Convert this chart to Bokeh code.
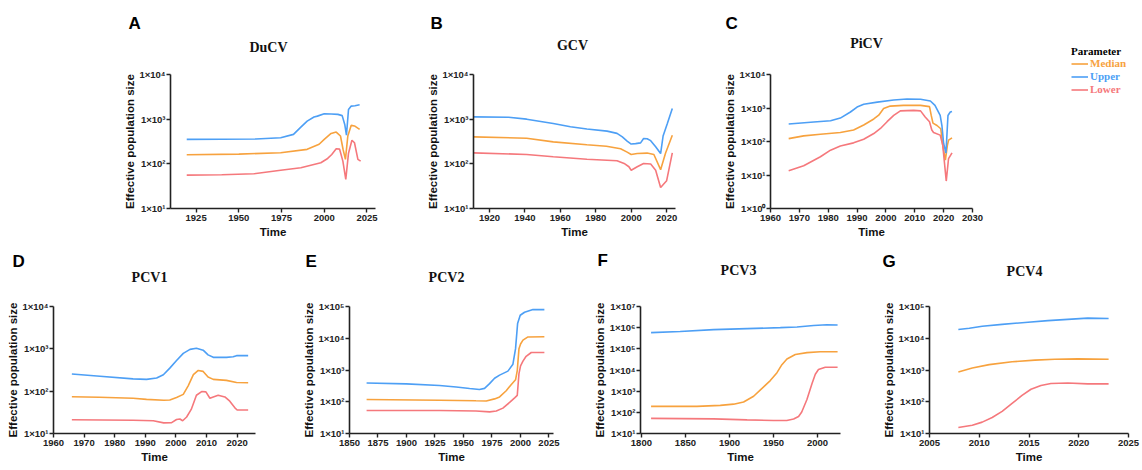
from bokeh.plotting import figure
from bokeh.models import Range1d, FixedTicker, Label, Legend, LegendItem
from bokeh.layouts import row, column
from bokeh.embed import file_html
from bokeh.resources import INLINE

# ---------------- data ----------------
# Panel A: DuCV
A_med_x = [1919.5, 1950, 1974.5, 1990, 1997, 2000, 2004, 2007, 2009.5, 2011, 2012.4, 2013.8, 2015.8, 2017.7, 2020.7]
A_med_y = [160, 165, 177, 211, 275, 353, 479, 515, 420, 212, 126, 420, 727, 705, 590]
A_up_x = [1919.5, 1940, 1960, 1974.5, 1982, 1986, 1990, 1994, 1996, 2000, 2004, 2008, 2010.5, 2012, 2013, 2014.2, 2015.8, 2018, 2020.7]
A_up_y = [353, 355, 360, 385, 457, 645, 906, 1120, 1170, 1320, 1310, 1280, 1200, 760, 440, 1650, 1960, 2000, 2100]
A_low_x = [1919.5, 1940, 1958.8, 1974.5, 1986.3, 1998, 2002, 2004.4, 2007, 2009, 2010.9, 2012.6, 2014.2, 2016.2, 2017.7, 2019.7, 2021.3]
A_low_y = [56, 57, 60, 72, 82, 106, 132, 162, 217, 213, 115, 45, 173, 337, 296, 126, 115]

# Panel B: GCV
B_med_x = [1911, 1941, 1956, 1975, 1986, 1994, 1997.7, 2000, 2003.4, 2009, 2012.8, 2016.6, 2019.4, 2023.2]
B_med_y = [402, 375, 310, 267, 248, 217, 183, 162, 170, 174, 162, 74, 174, 438]
B_up_x = [1911, 1930.8, 1941, 1956, 1965.7, 1975, 1986.4, 1992, 1995, 1997.7, 2000, 2002.5, 2005.3, 2007, 2009, 2011, 2013.8, 2016.6, 2018, 2020.4, 2023.2]
B_up_y = [1128, 1100, 1000, 800, 675, 600, 540, 480, 400, 323, 277, 283, 295, 370, 365, 330, 240, 170, 420, 800, 1740]
B_low_x = [1911, 1941, 1956, 1975, 1992, 1996, 1998.7, 2000, 2003.4, 2007, 2011, 2013.8, 2016.6, 2020, 2023.2]
B_low_y = [176, 162, 144, 127, 117, 102, 86, 72, 86, 102, 99, 72, 29.5, 42, 176]

# Panel C: PiCV
C_med_x = [1966.3, 1971.5, 1977.3, 1984.2, 1988.8, 1992.3, 1995.8, 1997.5, 1999.2, 2001.5, 2006.1, 2012, 2015.1, 2015.7, 2016.3, 2017.7, 2019, 2019.7, 2020.6, 2021.3, 2021.7, 2022.9]
C_med_y = [122, 147, 165, 185, 220, 310, 470, 610, 960, 1140, 1200, 1200, 1100, 600, 355, 300, 240, 77, 28, 77, 110, 129]
C_up_x = [1966.3, 1975, 1980.8, 1984.2, 1987.7, 1990, 1992.3, 1997, 2002.7, 2007.3, 2012, 2015.4, 2017, 2018.8, 2019.4, 2020, 2020.8, 2021.5, 2022.3, 2022.9]
C_up_y = [332, 380, 415, 500, 760, 1070, 1290, 1500, 1730, 1860, 1830, 1620, 1200, 600, 300, 87, 45, 600, 760, 790]
C_low_x = [1966.3, 1971.5, 1977.3, 1980.8, 1984.2, 1988.8, 1992.3, 1995.8, 1998.1, 2000.4, 2002.7, 2005, 2009.6, 2012, 2013.6, 2015.1, 2015.9, 2016.5, 2018.8, 2019.7, 2020.9, 2021.7, 2022.9]
C_low_y = [13.3, 18.8, 35, 55, 73, 91, 117, 173, 245, 390, 600, 820, 850, 820, 540, 390, 220, 185, 155, 77, 6.6, 31, 46]

# Panel D: PCV1
D_med_x = [1966, 1975, 1986, 1990.4, 1996, 1998, 2000.2, 2002.4, 2004, 2005.7, 2007.3, 2008.9, 2010.5, 2012.2, 2016.5, 2019.8, 2023.6]
D_med_y = [74, 72, 68, 64, 61, 62, 71, 84, 134, 245, 309, 293, 215, 190, 180, 160, 158]
D_up_x = [1966, 1975.2, 1986, 1990.4, 1993.7, 1995.9, 1998, 2000.2, 2002.4, 2004.6, 2006.7, 2008.9, 2010.5, 2012.2, 2016.5, 2018.7, 2019.8, 2023.6]
D_up_y = [254, 225, 195, 190, 205, 245, 350, 530, 780, 970, 1030, 930, 720, 630, 630, 650, 690, 690]
D_low_x = [1966, 1986, 1992.6, 1996, 1998.6, 2000.2, 2001.3, 2002.2, 2003.5, 2005, 2006.7, 2008.4, 2009.8, 2011.1, 2012.2, 2013.8, 2016, 2017.6, 2019.2, 2020, 2023.6]
D_low_y = [21.2, 20.6, 20, 17.8, 18, 21.4, 22, 20, 24.5, 37, 80, 98, 96, 68, 73, 80, 73, 58, 41, 36, 36]

# Panel E: PCV2
E_med_x = [1865, 1929, 1961, 1970, 1977.3, 1981.7, 1987.5, 1992, 1995.7, 1997.2, 1998.7, 2000.1, 2002.2, 2006.6, 2021]
E_med_y = [118, 112, 107, 106, 123, 142, 222, 350, 490, 950, 4700, 6600, 8700, 11000, 11200]
E_up_x = [1865, 1899.8, 1929, 1943.6, 1955.4, 1964, 1968.5, 1972.9, 1977.3, 1981.7, 1989, 1993.4, 1995.7, 1997.5, 1999.8, 2003.6, 2011, 2021]
E_up_y = [391, 365, 325, 290, 260, 243, 264, 372, 550, 690, 920, 1520, 4700, 29000, 53000, 66000, 80000, 80000]
E_low_x = [1865, 1929, 1961, 1973, 1978.8, 1984.6, 1990.5, 1994.9, 1997.2, 1998.7, 2000.1, 2002.2, 2005, 2009.5, 2021]
E_low_y = [53, 53, 51, 48, 51, 63, 95, 132, 158, 770, 1350, 1900, 2700, 3560, 3560]

# Panel F: PCV3
F_med_x = [1811, 1863, 1889.6, 1904.7, 1916, 1927.4, 1936.9, 1946.3, 1953.9, 1959.5, 1965.2, 1974.7, 1987.9, 2003, 2022.7]
F_med_y = [192, 192, 213, 243, 310, 575, 1350, 3160, 7500, 17800, 33000, 54000, 66000, 73000, 73000]
F_up_x = [1811, 1844, 1882, 1920, 1957.7, 1976.6, 1995.5, 2010.6, 2022.7]
F_up_y = [582000, 660000, 810000, 900000, 1000000, 1070000, 1270000, 1370000, 1330000]
F_low_x = [1811, 1882, 1920, 1950, 1965, 1972.8, 1978.4, 1982, 1987.9, 1993.6, 1997.4, 2001, 2008.7, 2022.7]
F_low_y = [52, 49, 44, 41, 41, 48, 63, 103, 405, 2250, 6300, 10500, 13400, 13400]

# Panel G: PCV4
G_med_x = [2007.9, 2009.3, 2011, 2013.3, 2015.6, 2017.6, 2019.9, 2023]
G_med_y = [870, 1150, 1480, 1820, 2040, 2190, 2240, 2190]
G_up_x = [2007.9, 2009, 2010.3, 2012.3, 2014.9, 2016.9, 2018.9, 2020.9, 2023]
G_up_y = [18900, 20700, 23800, 27300, 32000, 35800, 39300, 43000, 42000]
G_low_x = [2007.9, 2009.3, 2010.3, 2011.3, 2012.3, 2013.3, 2014.3, 2015.2, 2016.2, 2017.2, 2018.9, 2020.9, 2023]
G_low_y = [15.4, 18.3, 22.8, 32, 50, 89, 158, 247, 327, 375, 390, 365, 365]

# tick values
A_xticks = [1925, 1950, 1975, 2000, 2025]
B_xticks = [1920, 1940, 1960, 1980, 2000, 2020]
C_xticks = [1960, 1970, 1980, 1990, 2000, 2010, 2020, 2030]
D_xticks = [1960, 1970, 1980, 1990, 2000, 2010, 2020]
E_xticks = [1850, 1875, 1900, 1925, 1950, 1975, 2000, 2025]
F_xticks = [1800, 1850, 1900, 1950, 2000]
G_xticks = [2005, 2010, 2015, 2020, 2025]
A_ydec = [1, 2, 3, 4]
B_ydec = [1, 2, 3, 4]
C_ydec = [0, 1, 2, 3, 4]
D_ydec = [1, 2, 3, 4]
E_ydec = [1, 2, 3, 4, 5]
F_ydec = [1, 2, 3, 4, 5, 6, 7]
G_ydec = [1, 2, 3, 4, 5]

panel_letters = ["A", "B", "C", "D", "E", "F", "G"]
panel_names = ["DuCV", "GCV", "PiCV", "PCV1", "PCV2", "PCV3", "PCV4"]
params = ["Median", "Upper", "Lower"]
legend_title = "Parameter"
colors = {"Median": "#F7A23E", "Upper": "#4D9FF5", "Lower": "#F5787C"}

SANS = "Liberation Sans"
SERIF = "Liberation Serif"
AX = "#222222"
SUP = str.maketrans("0123456789", "⁰¹²³⁴⁵⁶⁷⁸⁹")


def dec_label(e):
    return "1×10" + str(e).translate(SUP)


def blank_fig(w, h):
    f = figure(width=w, height=h, x_range=Range1d(0, 1), y_range=Range1d(0, 1),
               x_axis_location=None, y_axis_location=None,
               output_backend="svg", toolbar_location=None)
    f.min_border = 0
    f.outline_line_color = None
    f.xgrid.visible = False
    f.ygrid.visible = False
    return f


def make_panel(w, h, mbl, mbr, mbt, mbb, xr, xticks, ydec, series):
    p = figure(width=w, height=h, x_range=Range1d(*xr),
               y_range=Range1d(10 ** ydec[0], 10 ** ydec[-1]), y_axis_type="log",
               output_backend="svg", toolbar_location=None)
    p.min_border_left = mbl
    p.min_border_right = mbr
    p.min_border_top = mbt
    p.min_border_bottom = mbb
    p.outline_line_color = None
    p.xgrid.visible = False
    p.ygrid.visible = False

    p.xaxis.ticker = FixedTicker(ticks=xticks)
    p.yaxis.ticker = FixedTicker(ticks=[10 ** e for e in ydec])
    p.yaxis.major_label_overrides = {10 ** e: dec_label(e) for e in ydec}
    for ax in (p.xaxis, p.yaxis):
        ax.axis_line_color = AX
        ax.axis_line_width = 1.6
        ax.major_tick_line_color = AX
        ax.major_tick_line_width = 1.4
        ax.major_tick_in = 0
        ax.major_tick_out = 4
        ax.minor_tick_line_color = None
        ax.major_label_text_font = SANS
        ax.major_label_text_font_style = "bold"
        ax.major_label_text_color = "#222222"
        ax.major_label_standoff = 2
        ax.axis_label_text_font = SANS
        ax.axis_label_text_font_style = "bold"
        ax.axis_label_text_font_size = "11.5px"
        ax.axis_label_text_color = "#111111"
        ax.axis_label_standoff = 2
    p.yaxis.major_label_standoff = 1
    p.yaxis.axis_label_standoff = 0
    p.xaxis.major_label_text_font_size = "9.5px"
    p.yaxis.major_label_text_font_size = "9.5px"
    p.xaxis.axis_label = "Time"
    p.yaxis.axis_label = "Effective population size"

    for key, (xs, ys) in series.items():
        p.line(xs, ys, line_color=colors[key], line_width=1.6)
    return p


def add_heading(f, letter, name, letter_xy, name_xy):
    f.add_layout(Label(x=letter_xy[0], y=letter_xy[1], x_units="screen", y_units="screen",
                       text=letter, text_font=SANS, text_font_style="bold",
                       text_font_size="17px", text_color="#000000",
                       text_align="left", text_baseline="middle"))
    f.add_layout(Label(x=name_xy[0], y=name_xy[1], x_units="screen", y_units="screen",
                       text=name, text_font=SERIF, text_font_style="bold",
                       text_font_size="14px", text_color="#111111",
                       text_align="center", text_baseline="middle"))


# ---------- top row ----------
pA = make_panel(415, 186, 170, 40, 14, 38, (1910, 2030), A_xticks, A_ydec,
                {"Median": (A_med_x, A_med_y), "Upper": (A_up_x, A_up_y), "Lower": (A_low_x, A_low_y)})
pB = make_panel(297, 186, 58, 37, 14, 38, (1911, 2025), B_xticks, B_ydec,
                {"Median": (B_med_x, B_med_y), "Upper": (B_up_x, B_up_y), "Lower": (B_low_x, B_low_y)})
pC = make_panel(350, 186, 58, 90, 14, 38, (1960, 2030), C_xticks, C_ydec,
                {"Median": (C_med_x, C_med_y), "Upper": (C_up_x, C_up_y), "Lower": (C_low_x, C_low_y)})

hdr1 = blank_fig(1062, 60)
add_heading(hdr1, panel_letters[0], panel_names[0], (128, 37), (268, 13))
add_heading(hdr1, panel_letters[1], panel_names[1], (430, 37), (572, 15))
add_heading(hdr1, panel_letters[2], panel_names[2], (725, 37), (866, 17))

# legend panel (its own small canvas, legend keys drawn by Bokeh's Legend)
legf = blank_fig(80, 246)
leg_y = [176.5, 163.5, 150.5]
for i, key in enumerate(params):
    r = legf.line(x=[float("nan")], y=[float("nan")], line_color=colors[key], line_width=1.6)
    leg = Legend(items=[LegendItem(label=key, renderers=[r])],
                 location=(9, leg_y[i]), orientation="vertical",
                 padding=0, margin=0, spacing=0,
                 glyph_width=17, glyph_height=13, label_height=13, label_standoff=2,
                 label_text_font=SERIF, label_text_font_style="bold",
                 label_text_font_size="11px", label_text_color=colors[key],
                 border_line_color=None, background_fill_alpha=0)
    if i == 0:
        leg.title = legend_title
        leg.title_text_font = SERIF
        leg.title_text_font_style = "bold"
        leg.title_text_font_size = "11px"
        leg.title_text_color = "#000000"
        leg.title_standoff = 0
    legf.add_layout(leg)

top = row(column(hdr1, row(pA, pB, pC)), legf)

# ---------- bottom row ----------
pD = make_panel(300, 180, 53, 45, 16, 33, (1960, 2026), D_xticks, D_ydec,
                {"Median": (D_med_x, D_med_y), "Upper": (D_up_x, D_up_y), "Lower": (D_low_x, D_low_y)})
pE = make_panel(290, 180, 49, 37, 15, 33, (1850, 2029), E_xticks, E_ydec,
                {"Median": (E_med_x, E_med_y), "Upper": (E_up_x, E_up_y), "Lower": (E_low_x, E_low_y)})
pF = make_panel(290, 180, 50, 40, 8, 37, (1799, 2026), F_xticks, F_ydec,
                {"Median": (F_med_x, F_med_y), "Upper": (F_up_x, F_up_y), "Lower": (F_low_x, F_low_y)})
pG = make_panel(262, 180, 47, 14, 9, 37, (2005, 2025), G_xticks, G_ydec,
                {"Median": (G_med_x, G_med_y), "Upper": (G_up_x, G_up_y), "Lower": (G_low_x, G_low_y)})

hdr2 = blank_fig(1142, 44)
add_heading(hdr2, panel_letters[3], panel_names[3], (12, 29), (149, 13))
add_heading(hdr2, panel_letters[4], panel_names[4], (305, 29), (446, 13))
add_heading(hdr2, panel_letters[5], panel_names[5], (597, 30), (738, 20))
add_heading(hdr2, panel_letters[6], panel_names[6], (882, 29), (1024, 19))

bottom = column(hdr2, row(pD, pE, pF, pG))

layout = column(top, bottom)

open("out.html", "w").write(file_html(layout, INLINE))
